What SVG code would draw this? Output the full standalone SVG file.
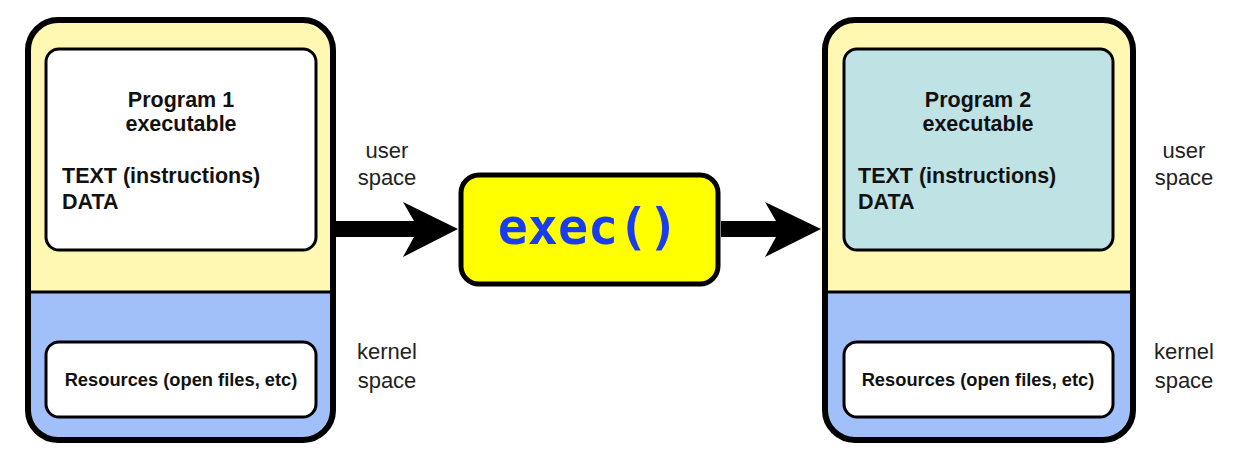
<svg xmlns="http://www.w3.org/2000/svg" width="1242" height="463" viewBox="0 0 1242 463">
<style>
.outer{stroke:#000;stroke-width:6;fill:none}
.user{fill:#fff8b3}
.kern{fill:#a1c0fa}
.inner{stroke:#000;stroke-width:3;fill:#fff}
.b{font-family:"Liberation Sans",Arial,sans-serif;font-weight:bold;font-size:21.5px;fill:#111}
.r{font-family:"Liberation Sans",Arial,sans-serif;font-weight:bold;font-size:18.3px;fill:#111}
.lab{font-family:"Liberation Sans",Arial,sans-serif;font-size:22px;fill:#222;text-anchor:middle}
</style>
<defs>
<clipPath id="c1"><rect x="28" y="20" width="305" height="420" rx="30"/></clipPath>
<clipPath id="c2"><rect x="825" y="20" width="308" height="420" rx="30"/></clipPath>
</defs>
<rect width="1242" height="463" fill="#fff"/>
<g id="process1">
<g clip-path="url(#c1)">
<rect x="28" y="20" width="305" height="272" class="user"/>
<rect x="28" y="292" width="305" height="148" class="kern"/>
</g>
<line x1="28" y1="292" x2="333" y2="292" stroke="#000" stroke-width="3"/>
<rect x="28" y="20" width="305" height="420" rx="30" class="outer"/>
<rect x="46" y="49" width="270" height="201" rx="13" class="inner"/>
<text x="181" y="107" class="b" text-anchor="middle">Program 1</text>
<text x="181" y="131" class="b" text-anchor="middle">executable</text>
<text x="62" y="183" class="b">TEXT (instructions)</text>
<text x="62" y="209" class="b">DATA</text>
<rect x="46" y="342" width="270" height="75" rx="13" class="inner"/>
<text x="181" y="386" class="r" text-anchor="middle">Resources (open files, etc)</text>
</g>
<g id="process2">
<g clip-path="url(#c2)">
<rect x="825" y="20" width="308" height="272" class="user"/>
<rect x="825" y="292" width="308" height="148" class="kern"/>
</g>
<line x1="825" y1="292" x2="1133" y2="292" stroke="#000" stroke-width="3"/>
<rect x="825" y="20" width="308" height="420" rx="30" class="outer"/>
<rect x="844" y="49" width="269" height="201" rx="13" class="inner" style="fill:#bfe2e5"/>
<text x="978" y="107" class="b" text-anchor="middle">Program 2</text>
<text x="978" y="131" class="b" text-anchor="middle">executable</text>
<text x="858" y="183" class="b">TEXT (instructions)</text>
<text x="858" y="209" class="b">DATA</text>
<rect x="844" y="342" width="269" height="75" rx="13" class="inner"/>
<text x="978" y="386" class="r" text-anchor="middle">Resources (open files, etc)</text>
</g>
<g id="labels">
<text x="387" y="158" class="lab">user</text>
<text x="387" y="185" class="lab">space</text>
<text x="387" y="359" class="lab">kernel</text>
<text x="387" y="388" class="lab">space</text>
<text x="1184" y="158" class="lab">user</text>
<text x="1184" y="185" class="lab">space</text>
<text x="1184" y="359" class="lab">kernel</text>
<text x="1184" y="388" class="lab">space</text>
</g>
<g id="exec">
<rect x="461" y="175" width="257" height="109" rx="18" fill="#ffff00" stroke="#000" stroke-width="5"/>
<text x="588" y="244" font-family="DejaVu Sans Mono,monospace" font-weight="bold" font-size="50" fill="#1a3cf0" text-anchor="middle">exec()</text>
</g>
<g id="connectors">
<path d="M336 221 L414 221 L403 202 L458 229 L403 257 L414 237 L336 237 Z" fill="#000"/>
<path d="M721 221 L776 221 L765 202 L821 229 L765 257 L776 237 L721 237 Z" fill="#000"/>
</g>
</svg>
